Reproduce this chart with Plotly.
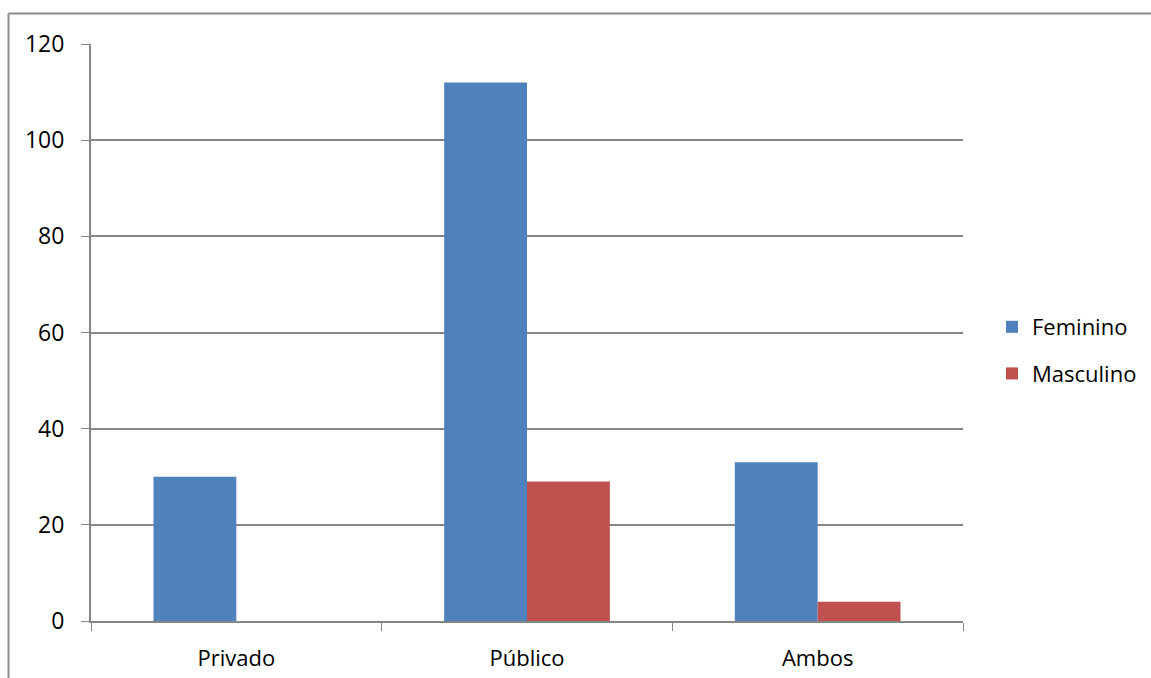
import plotly.graph_objects as go

categories = ["Privado", "Público", "Ambos"]
feminino = [30, 112, 33]
masculino = [0, 29, 4]
y_ticks = [0, 20, 40, 60, 80, 100, 120]

W, H = 1151, 678
ml, mr, mt, mb = 91, 188, 44, 57
pw, ph = W - ml - mr, H - mt - mb

font = dict(family="Open Sans, Liberation Sans, sans-serif", size=23, color="#000000")

fig = go.Figure()
fig.add_trace(go.Bar(x=categories, y=feminino, name="Feminino",
                     marker=dict(color="#4F81BD", line=dict(width=0)), legendgroup="f"))
fig.add_trace(go.Bar(x=categories, y=masculino, name="Masculino",
                     marker=dict(color="#C0504D", line=dict(width=0)), legendgroup="m"))

def px_to_paper_x(px):
    return (px - ml) / pw

def px_to_paper_y(py):
    return (H - mb - py) / ph

frame_color = "#8C8C8C"
fig.add_shape(type="line", xref="paper", yref="paper",
              x0=px_to_paper_x(8.5), x1=px_to_paper_x(1160),
              y0=px_to_paper_y(13.5), y1=px_to_paper_y(13.5),
              line=dict(color=frame_color, width=2))
fig.add_shape(type="line", xref="paper", yref="paper",
              x0=px_to_paper_x(8.5), x1=px_to_paper_x(8.5),
              y0=px_to_paper_y(13.5), y1=px_to_paper_y(690),
              line=dict(color=frame_color, width=2))

fig.update_layout(
    width=W, height=H,
    margin=dict(l=ml, r=mr, t=mt, b=mb, autoexpand=False),
    paper_bgcolor="white", plot_bgcolor="white",
    barmode="group", bargap=0.43, bargroupgap=0,
    font=font,
    showlegend=True,
    legend=dict(x=px_to_paper_x(992), y=px_to_paper_y(306), xanchor="left", yanchor="top",
                font=dict(family=font["family"], size=22, color="#000000"),
                tracegroupgap=15, traceorder="grouped", itemwidth=30,
                bgcolor="rgba(0,0,0,0)"),
    xaxis=dict(showgrid=False, showline=True, linecolor="#868686", linewidth=2,
               ticks="outside", tickson="boundaries", ticklen=8, tickcolor="#868686",
               tickwidth=1, mirror=False, tickfont=dict(size=22), ticklabelstandoff=17),
    yaxis=dict(range=[0, 120], tickvals=y_ticks, showgrid=True, gridcolor="#868686",
               gridwidth=1.5, showline=True, linecolor="#868686", linewidth=2,
               ticks="outside", ticklen=8, tickcolor="#868686", zeroline=False,
               tickfont=dict(size=23), ticklabelstandoff=12),
)

fig.write_html("out.html")
